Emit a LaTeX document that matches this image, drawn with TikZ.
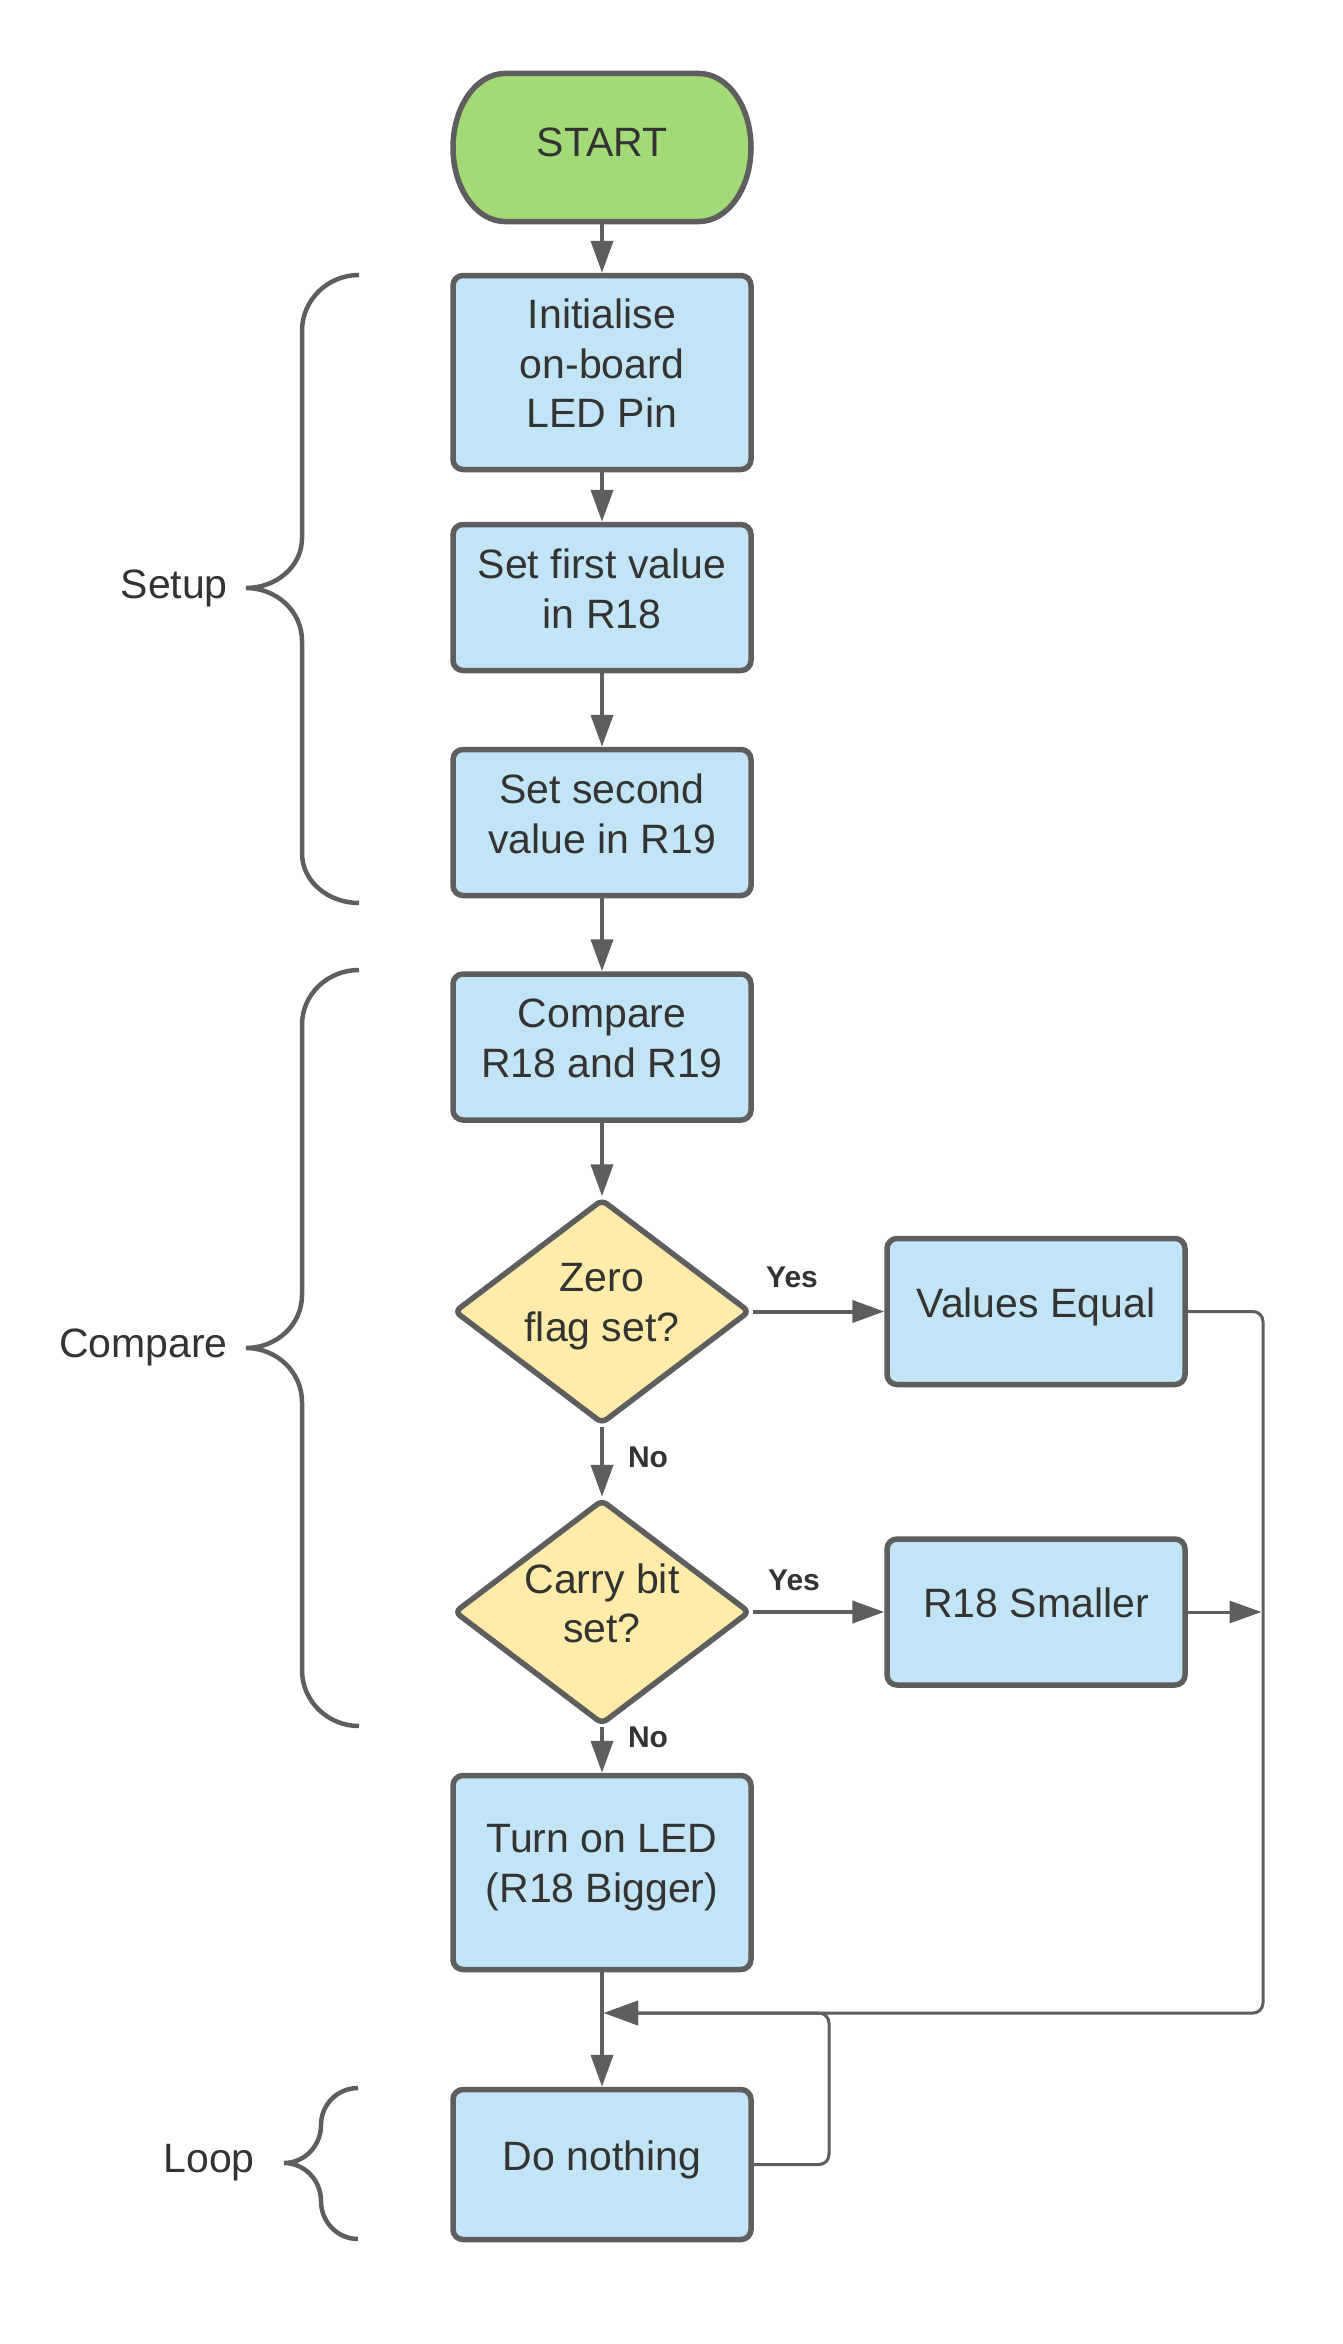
\documentclass[tikz,border=0pt]{standalone}
\usepackage{fontspec}
\setmainfont{Liberation Sans}
\usetikzlibrary{arrows.meta,shapes.geometric}
\definecolor{lncol}{HTML}{5E5E5E}
\definecolor{txtcol}{HTML}{333333}
\definecolor{boxcol}{HTML}{C2E4F6}
\definecolor{startcol}{HTML}{A3D977}
\definecolor{diacol}{HTML}{FFECA9}
\begin{document}
\begin{tikzpicture}[x=1pt,y=1pt,
  mainfont/.style={font=\fontsize{41}{49.5}\selectfont, text=txtcol},
  procbox/.style={mainfont, draw=lncol, line width=5.5pt, fill=boxcol, rounded corners=10pt,
    minimum width=298pt, minimum height=146pt, inner sep=0pt, align=center, text depth=18pt},
  diabox/.style={diamond, draw=lncol, line width=5.5pt, fill=diacol, rounded corners=6pt,
    minimum width=296pt, minimum height=225pt, inner sep=0pt},
  diatext/.style={mainfont, align=center, inner sep=0pt, text depth=18pt},
  startnode/.style={mainfont, minimum width=302pt, minimum height=153pt, inner sep=0pt, outer sep=0pt, text depth=10pt},
  startshape/.style={draw=lncol, line width=5.5pt, fill=startcol},
  conn/.style={draw=lncol, line width=4pt, -{Triangle[length=32pt,width=22pt]}},
  sideconn/.style={draw=lncol, line width=3pt, -{Triangle[length=32pt,width=22pt]}},
  backconn/.style={draw=lncol, line width=3pt, rounded corners=10pt, -{Triangle[length=34pt,width=24pt]}},
  bracepath/.style={draw=lncol, line width=4.5pt},
  sidelbl/.style={mainfont, inner sep=0pt},
  ynlbl/.style={font=\bfseries\fontsize{30}{36}\selectfont, text=txtcol, inner sep=0pt}
]
\useasboundingbox (0,0) rectangle (1343,-2344);
\fill[white] (0,0) rectangle (1343,-2344);

% START terminator
\draw[startshape] (505,-73.5) -- (699,-73.5)
  arc[start angle=90, end angle=-90, x radius=52, y radius=74] -- (505,-221.5)
  arc[start angle=270, end angle=90, x radius=52, y radius=74] -- cycle;
\node[startnode] (start) at (602,-147.5) {START};

% process boxes
\node[procbox, minimum height=194pt] (init) at (602,-372.5) {Initialise\\on-board\\LED Pin};
\node[procbox] (set1) at (602,-597.5) {Set first value\\in R18};
\node[procbox] (set2) at (602,-822.5) {Set second\\value in R19};
\node[procbox] (cmp) at (602,-1047) {Compare\\R18 and R19};
\node[diabox] (zero) at (602,-1311.5) {};
\node[diatext] (zerot) at (zero.center) {Zero\\flag set?};
\node[procbox] (values) at (1036,-1311.5) {Values Equal};
\node[diabox] (carry) at (602,-1612) {};
\node[diatext] (carryt) at (carry.center) {Carry bit\\set?};
\node[procbox] (small) at (1036,-1612) {R18 Smaller};
\node[procbox, minimum height=194pt] (turn) at (602,-1872.5) {Turn on LED\\(R18 Bigger)};
\node[procbox, minimum height=150pt] (nothing) at (602,-2164.5) {Do nothing};

% connectors
\draw[conn] (start.south) -- (init.north);
\draw[conn] (init.south) -- (set1.north);
\draw[conn] (set1.south) -- (set2.north);
\draw[conn] (set2.south) -- (cmp.north);
\draw[conn] (cmp.south) -- (zero.north);
\draw[conn] (zero.east) -- (values.west);
\draw[conn] (zero.south) -- (carry.north);
\draw[conn] (carry.east) -- (small.west);
\draw[conn] (carry.south) -- (turn.north);
\draw[conn] (turn.south) -- (nothing.north);

\coordinate (rc) at (1263,-2013);
\coordinate (lp) at (829,-2013);
\coordinate (join) at (604,-2013);
\coordinate (sj) at (1261.5,-1612);
\draw[backconn] (values.east) -| (rc) -- (join);
\draw[backconn] (nothing.east) -| (lp) -- (join);
\draw[sideconn] (small.east) -- (sj);

% Yes / No labels
\node[ynlbl] (yes1) at (792,-1277) {Yes};
\node[ynlbl] (yes2) at (794,-1580) {Yes};
\node[ynlbl] (no1) at (648,-1457) {No};
\node[ynlbl] (no2) at (648,-1737) {No};

% braces
\draw[bracepath] (359,-275) to[out=180,in=90] (302,-331) -- (302,-538)
  to[out=-90,in=0] (246,-588) to[out=0,in=90] (302,-641) -- (302,-853)
  to[out=-90,in=180] (359,-903);
\draw[bracepath] (359,-970) to[out=180,in=90] (302,-1025) -- (302,-1295)
  to[out=-90,in=0] (246,-1348) to[out=0,in=90] (302,-1402) -- (302,-1670)
  to[out=-90,in=180] (359,-1726);
\draw[bracepath] (358,-2088) to[out=180,in=90] (321,-2125)
  to[out=-90,in=0] (284,-2163) to[out=0,in=90] (321,-2201)
  to[out=-90,in=180] (358,-2239);

% side labels
\node[sidelbl, anchor=base east] (setup) at (228,-598) {Setup};
\node[sidelbl, anchor=base east] (compare) at (228,-1357) {Compare};
\node[sidelbl, anchor=base east] (loop) at (255,-2172) {Loop};
\end{tikzpicture}
\end{document}
